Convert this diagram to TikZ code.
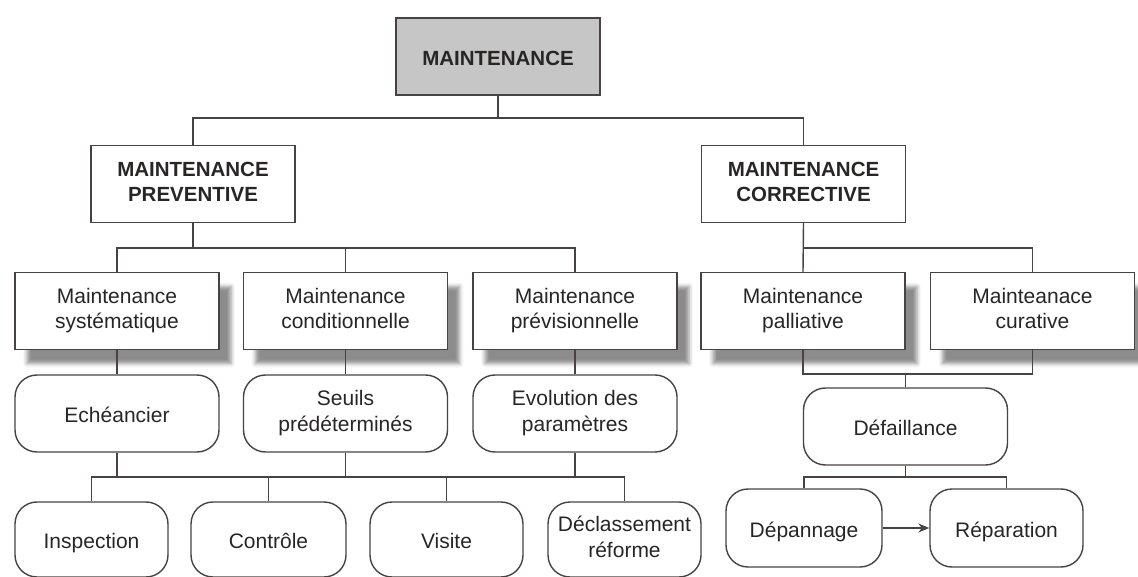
\documentclass[tikz,border=0pt]{standalone}
\usepackage{fontspec}
\setmainfont{Liberation Sans}
\usetikzlibrary{arrows.meta,shadows.blur}

\definecolor{ink}{RGB}{40,37,37}
\definecolor{edge}{RGB}{72,66,66}
\definecolor{topfill}{RGB}{198,198,198}

% fixed first-line height and last-line depth, so every label sits alike
\newcommand{\toprule}{\rule{0pt}{23pt}}
\newcommand{\botrule}{\rule[-5pt]{0pt}{5pt}}

\tikzset{
  base/.style={draw=edge, line width=1.4pt, text=ink, align=center,
    font=\fontsize{21}{25.5}\selectfont, inner sep=2pt,
    execute at begin node=\toprule, execute at end node=\botrule},
  headbox/.style={base, rectangle, minimum width=204pt, minimum height=77pt,
    font=\fontsize{20.5}{25}\selectfont\bfseries},
  typebox/.style={base, rectangle, fill=white, minimum width=204pt, minimum height=77pt,
    blur shadow={shadow xshift=12pt, shadow yshift=-14pt, shadow blur radius=4pt,
      shadow opacity=45}},
  roundbox/.style={base, rounded corners=22pt, minimum width=204pt, minimum height=77pt},
  leafbox/.style={base, rounded corners=22pt, minimum width=153pt, minimum height=75pt},
  link/.style={draw=edge, line width=1.4pt},
}

\begin{document}
\begin{tikzpicture}[x=1pt, y=-1pt]
  \useasboundingbox (0,0) rectangle (1138,577);

  % root and the two families
  \node[headbox, fill=topfill] (root) at (498,56.5) {MAINTENANCE};
  \node[headbox] (prev) at (193,184) {MAINTENANCE\\PREVENTIVE};
  \node[headbox] (corr) at (803.5,184) {MAINTENANCE\\CORRECTIVE};

  % maintenance types
  \node[typebox] (syst) at (117,311) {Maintenance\\systématique};
  \node[typebox] (cond) at (345.5,311) {Maintenance\\conditionnelle};
  \node[typebox] (previs) at (575,311) {Maintenance\\prévisionnelle};
  \node[typebox] (pall) at (803,311) {Maintenance\\palliative};
  \node[typebox] (cura) at (1032.5,311) {Mainteanace\\curative};

  % triggering events
  \node[roundbox] (ech) at (117,413.5) {Echéancier};
  \node[roundbox] (seuil) at (345.5,413.5) {Seuils\\prédéterminés};
  \node[roundbox] (evol) at (575,413.5) {Evolution des\\paramètres};
  \node[roundbox] (defa) at (905.5,426.5) {Défaillance};

  % operations
  \node[leafbox] (insp) at (91.5,539.5) {Inspection};
  \node[leafbox, minimum width=155pt] (contr) at (268.5,539.5) {Contrôle};
  \node[leafbox] (visit) at (446.5,539.5) {Visite};
  \node[leafbox] (decl) at (624.5,539.5) {Déclassement\\réforme};
  \node[leafbox, minimum width=156pt, minimum height=78pt] (depan) at (804,528) {Dépannage};
  \node[leafbox, minimum width=153pt, minimum height=78pt] (repar) at (1006.5,528) {Réparation};

  % bus points
  \coordinate (b1) at (498,118);
  \coordinate (b2) at (193,248);
  \coordinate (b3) at (803.5,248);
  \coordinate (b4) at (905.5,374);
  \coordinate (b5) at (345.5,477);
  \coordinate (b6) at (905.5,477);

  % root to families
  \draw[link] (root.south) -- (b1);
  \draw[link] (prev.north) |- (b1) -| (corr.north);

  % preventive branch
  \draw[link] (prev.south) -- (b2);
  \draw[link] (syst.north) |- (b2) -| (previs.north);
  \draw[link] (cond.north) -- (cond.north |- b2);
  \draw[link] (syst.south) -- (ech.north);
  \draw[link] (cond.south) -- (seuil.north);
  \draw[link] (previs.south) -- (evol.north);

  % corrective branch
  \draw[link] (corr.south) -- (pall.north);
  \draw[link] (b3) -| (cura.north);
  \draw[link] (pall.south) |- (b4) -| (cura.south);
  \draw[link] (b4) -- (defa.north);

  % operations of the preventive branch
  \draw[link] (insp.north) |- (b5) -| (decl.north);
  \draw[link] (ech.south) -- (ech.south |- b5);
  \draw[link] (seuil.south) -- (b5);
  \draw[link] (evol.south) -- (evol.south |- b5);
  \draw[link] (contr.north) -- (contr.north |- b5);
  \draw[link] (visit.north) -- (visit.north |- b5);

  % operations of the corrective branch
  \draw[link] (defa.south) -- (b6);
  \draw[link] (depan.north) |- (b6) -| (repar.north);
  \draw[link, -{Stealth[length=11pt, width=9pt]}] (depan.east) -- (repar.west);
\end{tikzpicture}
\end{document}
